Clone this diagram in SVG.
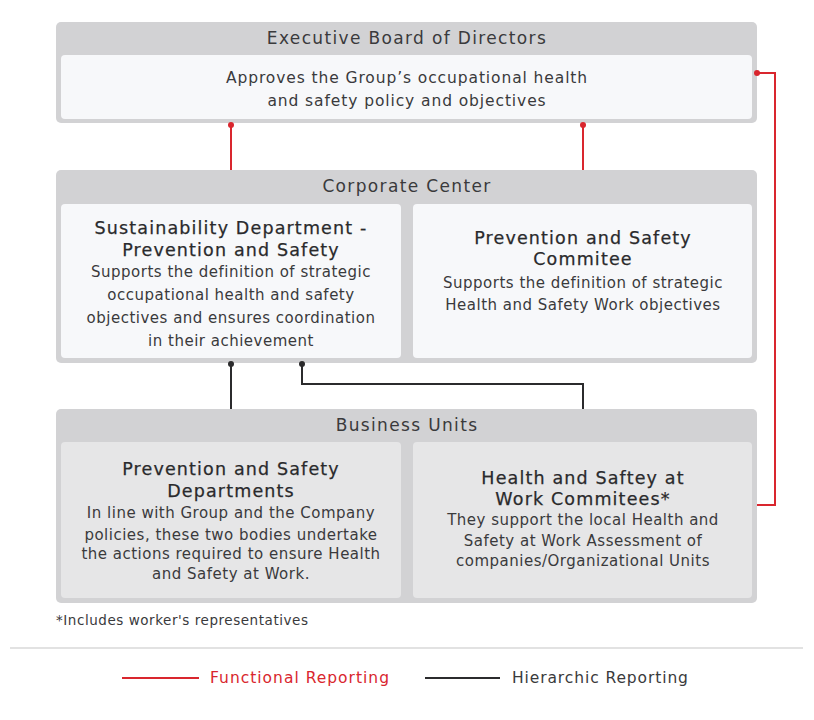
<svg xmlns="http://www.w3.org/2000/svg" width="814" height="720" viewBox="0 0 814 720">
<style>
text{font-family:"DejaVu Sans","Liberation Sans",sans-serif;fill:#3a3a3c;text-anchor:middle}
.hdr{font-size:17px;letter-spacing:1.35px}
.ttl{font-size:17.5px;letter-spacing:1.15px;fill:#2a2a2c;stroke:#2a2a2c;stroke-width:0.25}
.body{font-size:15px;letter-spacing:0.5px}
.top{font-size:15.5px;letter-spacing:0.9px}
.outer{fill:#d2d2d4}
.inW{fill:#f7f8fa}
.inG{fill:#e6e6e7}
.red{stroke:#d9262e;stroke-width:2;fill:none}
.blk{stroke:#2b2b2d;stroke-width:2;fill:none}
</style>
<rect width="814" height="720" fill="#ffffff"/>
<g id="executive-board">
<rect class="outer" x="56" y="22" width="701" height="101" rx="5"/>
<rect class="inW" x="61" y="55" width="691" height="64" rx="4"/>
<text class="hdr" x="407" y="44">Executive Board of Directors</text>
<text class="top" x="407" y="83">Approves the Group’s occupational health</text>
<text class="top" x="407" y="106">and safety policy and objectives</text>
</g>
<g id="corporate-center">
<rect class="outer" x="56" y="170" width="701" height="193" rx="5"/>
<text class="hdr" x="407" y="192">Corporate Center</text>
</g>
<g id="sustainability-dept">
<rect class="inW" x="61" y="204" width="340" height="154" rx="4"/>
<text class="ttl" x="231" y="234">Sustainability Department -</text>
<text class="ttl" x="231" y="256">Prevention and Safety</text>
<text class="body" x="231" y="277">Supports the definition of strategic</text>
<text class="body" x="231" y="300">occupational health and safety</text>
<text class="body" x="231" y="323">objectives and ensures coordination</text>
<text class="body" x="231" y="346">in their achievement</text>
</g>
<g id="prevention-committee">
<rect class="inW" x="413" y="204" width="339" height="154" rx="4"/>
<text class="ttl" x="583" y="244">Prevention and Safety</text>
<text class="ttl" x="583" y="265">Commitee</text>
<text class="body" x="583" y="288">Supports the definition of strategic</text>
<text class="body" x="583" y="310">Health and Safety Work objectives</text>
</g>
<g id="business-units">
<rect class="outer" x="56" y="409" width="701" height="194" rx="5"/>
<text class="hdr" x="407" y="431">Business Units</text>
</g>
<g id="prevention-depts">
<rect class="inG" x="61" y="442" width="340" height="156" rx="4"/>
<text class="ttl" x="231" y="475">Prevention and Safety</text>
<text class="ttl" x="231" y="497">Departments</text>
<text class="body" x="231" y="518">In line with Group and the Company</text>
<text class="body" x="231" y="540">policies, these two bodies undertake</text>
<text class="body" x="231" y="559">the actions required to ensure Health</text>
<text class="body" x="231" y="579">and Safety at Work.</text>
</g>
<g id="hs-committees">
<rect class="inG" x="413" y="442" width="339" height="156" rx="4"/>
<text class="ttl" x="583" y="484">Health and Saftey at</text>
<text class="ttl" x="583" y="505">Work Commitees*</text>
<text class="body" x="583" y="525">They support the local Health and</text>
<text class="body" x="583" y="546">Safety at Work Assessment of</text>
<text class="body" x="583" y="566">companies/Organizational Units</text>
</g>
<g id="connectors">
<line class="red" x1="231" y1="125" x2="231" y2="170"/>
<circle cx="231" cy="125" r="3" fill="#d9262e"/>
<line class="red" x1="583" y1="125" x2="583" y2="170"/>
<circle cx="583" cy="125" r="3" fill="#d9262e"/>
<polyline class="red" points="757,73 775,73 775,505 757,505"/>
<circle cx="757" cy="73" r="3" fill="#d9262e"/>
<line class="blk" x1="231" y1="364" x2="231" y2="409"/>
<circle cx="231" cy="364" r="3" fill="#2b2b2d"/>
<polyline class="blk" points="302,364 302,384 583,384 583,409"/>
<circle cx="302" cy="364" r="3" fill="#2b2b2d"/>
</g>
<g id="footnote">
<text x="56" y="625" style="font-size:13.5px;letter-spacing:0.55px;text-anchor:start">*Includes worker's representatives</text>
</g>
<line x1="10" y1="648" x2="803" y2="648" stroke="#d9d9d9" stroke-width="1.5"/>
<g id="legend">
<line x1="122" y1="678" x2="199" y2="678" stroke="#d9262e" stroke-width="2"/>
<text x="210" y="683" style="font-size:15.5px;letter-spacing:1px;text-anchor:start;fill:#d9262e">Functional Reporting</text>
<line x1="425" y1="678" x2="500" y2="678" stroke="#2b2b2d" stroke-width="2"/>
<text x="512" y="683" style="font-size:15.5px;letter-spacing:0.9px;text-anchor:start">Hierarchic Reporting</text>
</g>
</svg>
